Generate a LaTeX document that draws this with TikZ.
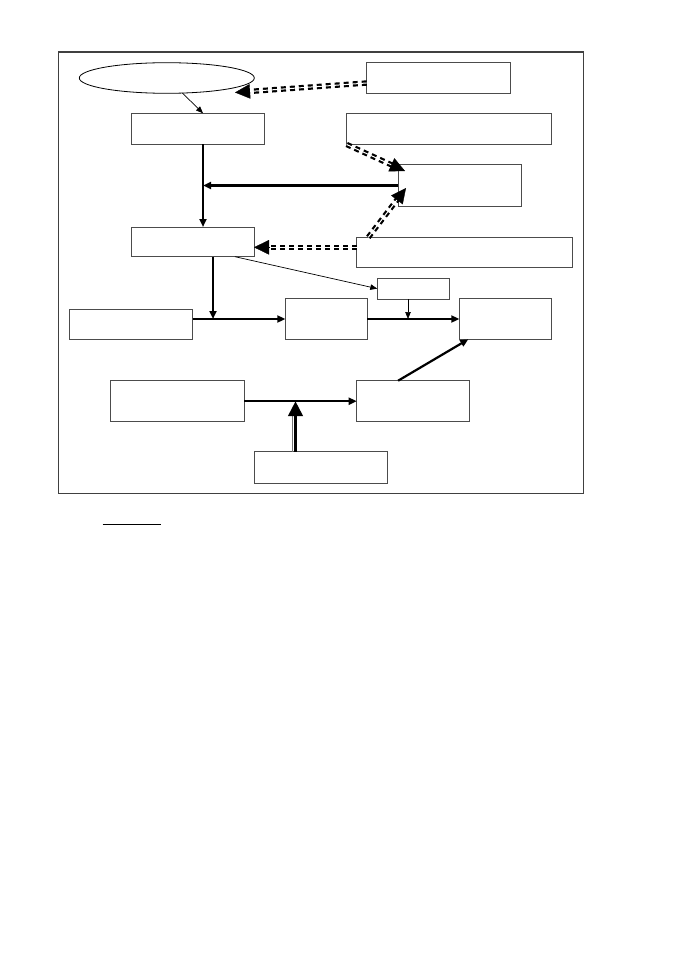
\documentclass[tikz,border=0pt]{standalone}
\usetikzlibrary{arrows.meta,calc,shapes.geometric}
\begin{document}
\begin{tikzpicture}[x=1pt,y=-1pt,
  box/.style={draw=black!70, line width=1pt, rectangle, inner sep=0pt, outer sep=0pt},
  solidarrow/.style={line width=2.2pt, -{Triangle[length=8pt,width=7pt]}},
  thinarrow/.style={line width=0.7pt, -{Triangle[length=7pt,width=5.5pt]}},
  dashouter/.style={line width=5.4pt, dash pattern=on 5pt off 4pt, shorten >=13pt},
  dashinner/.style={draw=white, line width=1pt, shorten >=12pt},
  bighead/.style={line width=0.4pt, -{Triangle[length=15pt,width=14.5pt]}}
]
\useasboundingbox (0,0) rectangle (678,960);
\fill[white] (0,0) rectangle (678,960);
% frame
\draw[black!75, line width=1.5pt] (58.5,51.8) rectangle (583.3,493.7);
% nodes
\node[draw=black, line width=0.8pt, ellipse, inner sep=0pt, outer sep=0pt,
      minimum width=175pt, minimum height=30.6pt] (el) at (166.8,78) {};
\node[box, minimum width=144pt, minimum height=30.6pt] (A) at (438.7,78) {};
\node[box, minimum width=133.3pt, minimum height=31.2pt] (B) at (197.65,128.9) {};
\node[box, minimum width=204.6pt, minimum height=31.2pt] (C) at (449,128.9) {};
\node[box, minimum width=123.2pt, minimum height=41pt] (D) at (459.9,185.5) {};
\node[box, minimum width=123pt, minimum height=29.7pt] (E) at (192.5,241.85) {};
\node[box, minimum width=215.6pt, minimum height=30pt] (F) at (464.5,252.3) {};
\node[box, minimum width=71.7pt, minimum height=20.7pt] (G) at (413.15,288.65) {};
\node[box, minimum width=123.5pt, minimum height=30.3pt] (H) at (130.95,324.15) {};
\node[box, minimum width=81.7pt, minimum height=40.6pt] (I) at (326.15,319) {};
\node[box, minimum width=92.4pt, minimum height=41pt] (J) at (505.5,318.8) {};
\node[box, minimum width=133.5pt, minimum height=41pt] (K) at (177.25,401.2) {};
\node[box, minimum width=112.8pt, minimum height=41pt] (L) at (413.1,401.2) {};
\node[box, minimum width=133.2pt, minimum height=31.6pt] (M) at (320.9,467.7) {};
% helper coordinates
\coordinate (vx) at (203,0);
\coordinate (hy) at (0,247.3);
\coordinate (ex) at (213,319);
\coordinate (gx) at (408,319);
\coordinate (mt) at (295.5,401.2);
\coordinate (elin) at (235,92.5);
\coordinate (a1) at ([yshift=-5pt]A.west);
\coordinate (c1) at (C.south west);
\coordinate (d1) at (405,171);
\coordinate (f1) at ([xshift=11.6pt]F.north west);
\coordinate (d2) at (406,188);
\coordinate (f2) at (F.west |- hy);
\coordinate (e2) at (E.east |- hy);
% dashed double arrows
\draw[dashouter] (a1) -- (elin);
\draw[dashinner] (a1) -- (elin);
\draw[bighead] ($(elin)!15pt!(a1)$) -- (elin);
\draw[dashouter] (c1) -- (d1);
\draw[dashinner] (c1) -- (d1);
\draw[bighead] ($(d1)!15pt!(c1)$) -- (d1);
\draw[dashouter] (f1) -- (d2);
\draw[dashinner] (f1) -- (d2);
\draw[bighead] ($(d2)!15pt!(f1)$) -- (d2);
\draw[dashouter] (f2) -- (e2);
\draw[dashinner] (f2) -- (e2);
\draw[bighead] ($(e2)!15pt!(f2)$) -- (e2);
% thin arrows
\draw[thinarrow] (el.-44.6) -- ([xshift=5.4pt]B.north);
\draw[thinarrow] ([xshift=42.5pt]E.south) -- (G.west);
\draw[thinarrow] (G.south -| gx) -- (gx);
% solid arrows
\draw[solidarrow] (B.south -| vx) -- (E.north -| vx);
\draw[solidarrow] (D.west) -- (D.west -| vx);
\draw[solidarrow] (E.south -| ex) -- (ex);
\draw[solidarrow] (H.east |- I.west) -- (I.west);
\draw[solidarrow] (I.east) -- (J.west |- I.east);
\draw[solidarrow] (K.east) -- (L.west);
\draw[solidarrow] ([xshift=-15pt]L.north) -- ([xshift=9pt]J.south west);
% bottom up arrow
\draw[black!55, line width=0.8pt, shorten >=14pt] ([xshift=-3.5pt]M.north -| mt) -- ([xshift=-3.5pt]mt);
\draw[line width=3pt, -{Triangle[length=15pt,width=14.5pt]}] (M.north -| mt) -- (mt);
% underline
\draw[line width=1.2pt] (102.7,524.3) -- (161,524.3);
\end{tikzpicture}
\end{document}
